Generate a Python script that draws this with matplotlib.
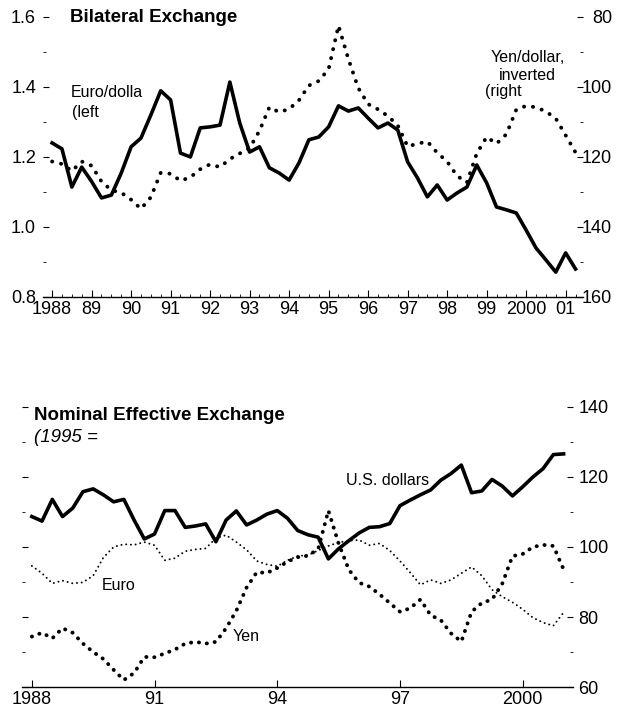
import numpy as np
import matplotlib.pyplot as plt
from matplotlib.ticker import MultipleLocator

plt.rcParams['font.family'] = ['Liberation Sans', 'DejaVu Sans']

# top panel, quarterly from 1988Q1
euro_dollar = [1.240, 1.223, 1.114, 1.171, 1.13, 1.083, 1.091, 1.154, 1.229, 1.254,
               1.320, 1.389, 1.363, 1.211, 1.200, 1.283, 1.286, 1.291, 1.414, 1.297,
               1.214, 1.229, 1.169, 1.154, 1.134, 1.183, 1.249, 1.257, 1.286, 1.346,
               1.331, 1.340, 1.311, 1.283, 1.297, 1.277, 1.186, 1.140, 1.086, 1.120,
               1.077, 1.097, 1.114, 1.177, 1.126, 1.057, 1.049, 1.040, 0.991, 0.940,
               0.906, 0.871, 0.926, 0.880]
yen_dollar = [121.3, 122.0, 124.0, 121.3, 122.5, 127.0, 129.5, 130.2, 132.2, 134.8,
              131.5, 124.5, 124.8, 126.8, 125.8, 123.5, 122.1, 122.9, 120.6, 119.0,
              117.5, 112.5, 105.8, 107.2, 106.3, 103.8, 99.6, 98.3, 94.9, 82.5,
              92.0, 100.3, 104.9, 106.4, 108.3, 111.0, 117.0, 116.2, 115.6, 118.8,
              121.3, 125.4, 127.3, 119.0, 114.3, 116.2, 113.5, 106.5, 105.4, 105.8,
              107.0, 109.0, 113.8, 118.7]

# bottom panel, 1995 = 100, quarterly from 1988Q1
usd_index = [108.7, 107.4, 113.6, 108.7, 111.1, 115.8, 116.6, 114.9, 112.9, 113.6,
             107.7, 102.3, 103.7, 110.4, 110.4, 105.6, 106.0, 106.6, 101.5, 107.7,
             110.3, 106.3, 107.7, 109.4, 110.4, 108.2, 104.7, 103.5, 102.8, 96.6,
             99.5, 101.8, 104.0, 105.6, 105.8, 106.7, 111.8, 113.4, 114.9, 116.3,
             119.1, 121.0, 123.4, 115.5, 116.0, 119.3, 117.4, 114.6, 117.2, 120.0,
             122.4, 126.4, 126.6]
euro_index = [94.6, 92.5, 89.6, 90.4, 89.6, 89.9, 91.8, 97.0, 100.0, 100.8,
              100.6, 101.4, 100.5, 96.2, 96.8, 98.8, 99.3, 99.6, 102.5, 103.4,
              101.4, 99.2, 96.0, 95.0, 94.5, 96.2, 97.4, 97.7, 99.0, 100.3,
              101.3, 101.8, 102.0, 100.5, 101.0, 99.0, 96.0, 92.7, 89.2, 90.6,
              89.6, 90.6, 92.5, 94.3, 91.8, 87.8, 85.8, 84.2, 82.2, 79.8,
              78.4, 77.5, 81.3]
yen_index = [74.4, 75.5, 73.9, 76.8, 75.5, 72.4, 70.0, 68.0, 64.9, 62.0,
             64.0, 68.6, 68.5, 69.6, 70.7, 72.4, 72.9, 72.4, 72.9, 76.8,
             81.8, 88.4, 92.8, 92.6, 94.0, 95.8, 97.1, 97.5, 99.4, 110.4,
             101.0, 93.5, 89.8, 88.7, 86.5, 84.0, 81.5, 82.5, 85.0, 80.5,
             79.1, 75.3, 73.0, 81.5, 84.0, 85.0, 89.5, 97.4, 98.0, 100.0,
             100.6, 100.3, 93.6]

top_tick_labels = ["1988", "89", "90", "91", "92", "93", "94", "95",
                   "96", "97", "98", "99", "2000", "01"]
bottom_tick_labels = ["1988", "91", "94", "97", "2000"]

TS = 13


def dotted(ax, x, y, lw, gap):
    ax.plot(x, y, color='black', lw=lw, linestyle=(0, (0.05, gap)),
            dash_capstyle='round')


def strip(ax):
    for s in ax.spines.values():
        s.set_visible(False)


def top_panel(fig):
    x = 1988 + 0.25 * np.arange(len(euro_dollar))
    ax = fig.add_axes([0.0696, 0.5829, 0.8738, 0.3933])
    ax.plot(x, euro_dollar, color='black', lw=2.6)
    ax.set_xlim(1987.77, 2001.44)
    ax.set_ylim(0.8, 1.6)
    strip(ax)
    ax.spines['bottom'].set_visible(True)
    ax.spines['bottom'].set_linewidth(1.0)

    ax.set_yticks([0.8, 1.0, 1.2, 1.4, 1.6], ["0.8", "1.0", "1.2", "1.4", "1.6"])
    ax.yaxis.set_minor_locator(MultipleLocator(0.1))
    ax.tick_params(axis='y', which='major', direction='in', length=4, pad=5, labelsize=TS)
    ax.tick_params(axis='y', which='minor', direction='in', length=2)
    ax.set_xticks(range(1988, 2002), top_tick_labels)
    ax.xaxis.set_minor_locator(MultipleLocator(0.25))
    ax.tick_params(axis='x', which='major', direction='in', length=5, pad=3, labelsize=TS)
    ax.tick_params(axis='x', which='minor', direction='in', length=2.5)

    ax2 = ax.twinx()
    dotted(ax2, x, yen_dollar, 2.8, 2.3)
    ax2.set_ylim(160, 80)
    strip(ax2)
    ax2.set_yticks([80, 100, 120, 140, 160], ["80", "100", "120", "140", "160"], ha='right')
    ax2.yaxis.set_minor_locator(MultipleLocator(10))
    ax2.tick_params(axis='y', which='major', direction='in', length=4, pad=21, labelsize=TS)
    ax2.tick_params(axis='y', which='minor', direction='in', length=2)

    ax.text(1988.46, 1.383, "Euro/dolla", fontsize=11.5, va='center')
    ax.text(1988.5, 1.326, "(left", fontsize=11.5, va='center')
    ax.text(2000.05, 1.483, "Yen/dollar,", fontsize=11.5, va='center', ha='center')
    ax.text(2000.03, 1.434, "inverted", fontsize=11.5, va='center', ha='center')
    ax.text(1998.96, 1.386, "(right", fontsize=11.5, va='center')
    fig.text(70 / 618, 1 - 17 / 712, "Bilateral Exchange", fontsize=13.5,
             fontweight='bold', va='center')


def bottom_panel(fig):
    x = 1988 + 0.25 * np.arange(len(usd_index))
    ax = fig.add_axes([0.0356, 0.0351, 0.8916, 0.3933])
    ax.plot(x, usd_index, color='black', lw=2.6)
    dotted(ax, x, euro_index, 1.4, 2.4)
    dotted(ax, x, yen_index, 2.8, 2.0)
    ax.set_xlim(1987.76, 2001.23)
    ax.set_ylim(60, 140)
    strip(ax)
    ax.spines['bottom'].set_visible(True)
    ax.spines['bottom'].set_linewidth(1.0)

    ax.set_xticks([1988, 1991, 1994, 1997, 2000], bottom_tick_labels)
    ax.tick_params(axis='x', direction='in', length=5, pad=3, labelsize=TS)
    ax.yaxis.set_ticks_position('both')
    ax.yaxis.set_label_position('right')
    ax.set_yticks([60, 80, 100, 120, 140], ["60", "80", "100", "120", "140"])
    ax.yaxis.set_minor_locator(MultipleLocator(10))
    ax.tick_params(axis='y', which='major', direction='in', length=4, pad=4,
                   labelsize=TS, labelleft=False, labelright=True)
    ax.tick_params(axis='y', which='minor', direction='in', length=2)

    ax.text(1996.70, 119.1, "U.S. dollars", fontsize=11.5, va='center', ha='center')
    ax.text(1989.71, 88.9, "Euro", fontsize=11.5, va='center')
    ax.text(1992.91, 74.3, "Yen", fontsize=11.5, va='center')
    ax.text(1988.05, 137.7, "Nominal Effective Exchange", fontsize=13.5,
            fontweight='bold', va='center')
    ax.text(1988.05, 131.4, "(1995 =", fontsize=13.5, style='italic', va='center')


def main() -> None:
    fig = plt.figure(figsize=(6.18, 7.12), dpi=100)
    top_panel(fig)
    bottom_panel(fig)
    fig.savefig("out.png", dpi=100)


if __name__ == "__main__":
    main()
